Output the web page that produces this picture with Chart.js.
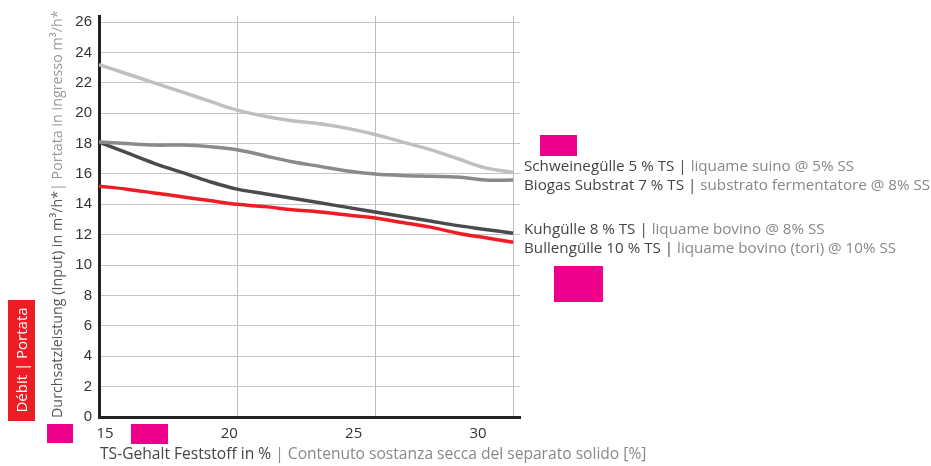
<!DOCTYPE html>
<html>
<head>
<meta charset="utf-8">
<script src="https://cdn.jsdelivr.net/npm/chart.js@4/dist/chart.umd.min.js"></script>
<style>
  html, body { margin: 0; padding: 0; background: #fff; }
  #wrap { width: 931px; height: 466px; }
</style>
</head>
<body>
<div id="wrap"><canvas id="graph" width="931" height="466"></canvas></div>
<script>
// TS-Gehalt in %
var tsValues = [15, 16, 17, 18, 19, 20, 21, 22, 23, 24, 25, 26, 27, 28, 29, 30];

var schweineData = [23.2, 22.6, 22.0, 21.4, 20.8, 20.2, 19.8, 19.5, 19.3, 19.0, 18.6, 18.1, 17.6, 17.0, 16.4, 16.1];
var biogasData   = [18.1, 18.0, 17.9, 17.9, 17.8, 17.6, 17.2, 16.8, 16.5, 16.2, 16.0, 15.9, 15.85, 15.8, 15.6, 15.6];
var kuhData      = [18.1, 17.4, 16.7, 16.1, 15.5, 15.0, 14.7, 14.4, 14.1, 13.8, 13.5, 13.2, 12.9, 12.6, 12.35, 12.1];
var bullenData   = [15.2, 15.0, 14.75, 14.5, 14.25, 14.0, 13.85, 13.65, 13.5, 13.3, 13.1, 12.8, 12.5, 12.1, 11.8, 11.5];

var xTicks = [15, 20, 25, 30];
var yTicks = [0, 2, 4, 6, 8, 10, 12, 14, 16, 18, 20, 22, 24, 26];

var seriesNames = [
    ["Schweinegülle 5 % TS", "liquame suino @ 5% SS"],
    ["Biogas Substrat 7 % TS", "substrato fermentatore @ 8% SS"],
    ["Kuhgülle 8 % TS", "liquame bovino @ 8% SS"],
    ["Bullengülle 10 % TS", "liquame bovino (tori) @ 10% SS"]
];

function pts(arr) {
    return arr.map(function(v, i) { return {x: tsValues[i], y: v}; });
}

var FONT = '"Open Sans", sans-serif';

var extras = {
    id: 'extras',
    afterDraw: function(chart) {
        var c = chart.ctx;
        var ys = chart.scales.y;
        var right = chart.chartArea.right;
        c.save();

        // pink boxes
        c.fillStyle = '#ec008c';
        c.fillRect(47, 424, 26, 19);
        c.fillRect(131, 424, 37, 20);
        c.fillRect(540, 135, 37, 21);
        c.fillRect(554, 266, 49, 36);

        // red box on the left
        c.fillStyle = '#ee1c25';
        c.fillRect(8, 300, 27, 121);
        c.translate(22, 360);
        c.rotate(-Math.PI / 2);
        c.fillStyle = '#fff';
        c.font = '15px ' + FONT;
        c.textAlign = 'center';
        c.textBaseline = 'middle';
        c.fillText('Débit | Portata', 0, 1);
        c.setTransform(1, 0, 0, 1, 0, 0);

        // y title
        c.translate(58, 418);
        c.rotate(-Math.PI / 2);
        c.font = '14.3px ' + FONT;
        c.textAlign = 'left';
        c.textBaseline = 'middle';
        var t1 = 'Durchsatzleistung (Input) in m³/h*';
        c.fillStyle = '#555';
        c.fillText(t1, 0, 0);
        var w1 = c.measureText(t1).width;
        c.fillStyle = '#999';
        c.fillText('| Portata in ingresso m³/h*', w1, 0);
        c.setTransform(1, 0, 0, 1, 0, 0);

        // x title
        c.font = '15.6px ' + FONT;
        c.textBaseline = 'middle';
        var a = 'TS-Gehalt Feststoff in % ';
        c.fillStyle = '#444';
        c.fillText(a, 100, 455);
        var wa = c.measureText(a).width;
        c.fillStyle = '#888';
        c.fillText('| Contenuto sostanza secca del separato solido [%]', 100 + wa, 455);

        // series labels
        c.font = '15.2px ' + FONT;
        var labelAt = [16.5, 15.2, 12.35, 11.05];
        seriesNames.forEach(function(n, i) {
            var py = ys.getPixelForValue(labelAt[i]);
            var s1 = n[0] + ' | ';
            c.fillStyle = '#444';
            c.fillText(s1, right + 4, py);
            var ws = c.measureText(s1).width;
            c.fillStyle = '#888';
            c.fillText(n[1], right + 4 + ws, py);
        });
        c.restore();
    }
};

var ctx = document.getElementById('graph');

function line(label, data, color) {
    return {
        label: label,
        data: pts(data),
        borderColor: color,
        borderWidth: 3.5,
        pointRadius: 0,
        tension: 0.35,
        fill: false
    };
}

new Chart(ctx, {
    type: 'line',
    data: {
        datasets: [
            line('Schweinegülle', schweineData, '#bfbfc3'),
            line('Biogas Substrat', biogasData, '#8a8a8e'),
            line('Kuhgülle', kuhData, '#4b4b4f'),
            line('Bullengülle', bullenData, '#ee1c25')
        ]
    },
    options: {
        responsive: false,
        animation: false,
        devicePixelRatio: 1,
        layout: {
            padding: { left: 0, top: 13, right: 411, bottom: 0 }
        },
        plugins: {
            legend: { display: false },
            tooltip: { enabled: false }
        },
        scales: {
            x: {
                type: 'linear',
                position: 'bottom',
                min: 15,
                max: 30.25,
                afterBuildTicks: function(s) { s.ticks = xTicks.map(function(v) { return {value: v}; }); },
                afterFit: function(s) { s.height = 2; },
                border: { display: true, color: '#222', width: 3 },
                grid: { color: '#bdbdbd', lineWidth: 1, drawTicks: false },
                ticks: { display: false }
            },
            // tick labels only, they sit a bit off the grid in the original
            xl: {
                type: 'linear',
                position: 'bottom',
                min: 14.76,
                max: 31.69,
                afterBuildTicks: function(s) { s.ticks = xTicks.map(function(v) { return {value: v}; }); },
                afterFit: function(s) { s.height = 47; },
                border: { display: false },
                grid: { display: false, drawTicks: false },
                ticks: {
                    padding: 6,
                    color: '#333',
                    maxRotation: 0,
                    font: { family: '"Open Sans", sans-serif', size: 15 }
                }
            },
            y: {
                min: 0,
                max: 26.4,
                afterBuildTicks: function(s) { s.ticks = yTicks.map(function(v) { return {value: v}; }); },
                afterFit: function(s) { s.width = 99; },
                border: { display: true, color: '#222', width: 3 },
                grid: { color: '#c4c4c4', lineWidth: 1, drawTicks: false },
                ticks: {
                    padding: 7,
                    color: '#333',
                    font: { family: '"Liberation Sans", Arial, sans-serif', size: 15 }
                }
            }
        }
    },
    plugins: [extras]
});
</script>
</body>
</html>
